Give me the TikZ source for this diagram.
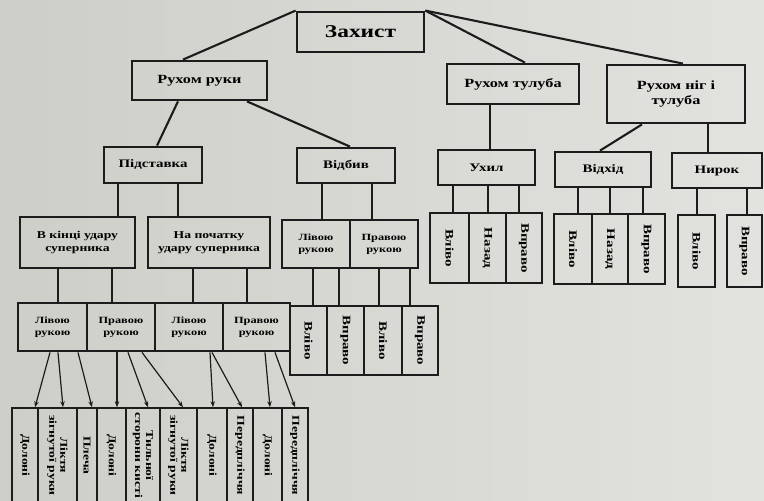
\documentclass[tikz,border=0pt]{standalone}
\usepackage{fontspec}
\setmainfont{Liberation Serif}[FakeStretch=1.3]
\usetikzlibrary{arrows.meta}
\definecolor{paperL}{RGB}{206,206,201}
\definecolor{paperR}{RGB}{226,226,222}
\definecolor{ink}{RGB}{28,28,28}
\tikzset{
  bx/.style={draw=ink, line width=2.8pt, align=center, inner sep=1pt},
  fA/.style={font=\bfseries\fontsize{18}{20}\selectfont},
  fB/.style={font=\bfseries\fontsize{12.5}{15}\selectfont},
  fC/.style={font=\bfseries\fontsize{11.5}{13}\selectfont},
  fD/.style={font=\bfseries\fontsize{10.5}{13}\selectfont},
  fE/.style={font=\bfseries\fontsize{9.5}{12}\selectfont},
  leaf/.style={draw=ink, line width=2.6pt, inner sep=0pt},
  lf/.style={rotate=-90, inner sep=0pt, align=center, font=\bfseries\fontsize{11.5}{12}\selectfont},
  bt/.style={draw=ink, line width=1.5pt, inner sep=0pt},
  bf/.style={rotate=-90, inner sep=0pt, align=center, font=\bfseries\fontsize{10.5}{11}\selectfont},
  cn/.style={draw=ink, line width=2.1pt},
  ar/.style={draw=ink, line width=1.2pt, -{Stealth[length=6pt,width=4.5pt]}},
}
\begin{document}
\begin{tikzpicture}[x=1pt,y=-1pt]
\useasboundingbox (0,0) rectangle (764,501);
\clip (0,0) rectangle (764,501);
\shade[left color=paperL, right color=paperR] (0,0) rectangle (764,501);

% level 0 and 1
\node[bx, fA, minimum width=127pt, minimum height=40pt] (zah) at (360.5,32) {Захист};
\node[bx, fB, minimum width=135pt, minimum height=39pt] (rr) at (199.5,80.5) {Рухом руки};
\node[bx, fB, minimum width=132pt, minimum height=40pt] (rt) at (513,84) {Рухом тулуба};
\node[bx, fB, minimum width=138pt, minimum height=58pt] (rn) at (676,94) {Рухом ніг і\\тулуба};

% level 2
\node[bx, fC, minimum width=98pt, minimum height=36pt] (pid) at (153,165) {Підставка};
\node[bx, fC, minimum width=98pt, minimum height=35pt] (vidb) at (346,165.5) {Відбив};
\node[bx, fC, minimum width=97pt, minimum height=35pt] (ukh) at (486.5,167.5) {Ухил};
\node[bx, fC, minimum width=96pt, minimum height=35pt] (vidh) at (603,169.5) {Відхід};
\node[bx, fC, minimum width=90pt, minimum height=35pt] (nyr) at (717,170.5) {Нирок};

% level 3
\node[bx, fD, minimum width=115pt, minimum height=51pt] (vk) at (77.5,242.5) {В кінці удару\\суперника};
\node[bx, fD, minimum width=122pt, minimum height=51pt] (np) at (209,242.5) {На початку\\удару суперника};
\node[bx, fE, minimum width=68pt, minimum height=48pt] (vl) at (316,244) {Лівою\\рукою};
\node[bx, fE, minimum width=68pt, minimum height=48pt] (vp) at (384,244) {Правою\\рукою};

% level 4
\node[bx, fE, minimum width=69pt, minimum height=48pt] (a1) at (52.5,327) {Лівою\\рукою};
\node[bx, fE, minimum width=68pt, minimum height=48pt] (a2) at (121,327) {Правою\\рукою};
\node[bx, fE, minimum width=68pt, minimum height=48pt] (a3) at (189,327) {Лівою\\рукою};
\node[bx, fE, minimum width=67pt, minimum height=48pt] (a4) at (256.5,327) {Правою\\рукою};

% leaves under Відбив
\node[leaf, minimum width=37pt, minimum height=69pt, label={[lf]center:Вліво}] (d1) at (308.5,340.5) {};
\node[leaf, minimum width=37pt, minimum height=69pt, label={[lf]center:Вправо}] (d2) at (345.5,340.5) {};
\node[leaf, minimum width=38pt, minimum height=69pt, label={[lf]center:Вліво}] (d3) at (383,340.5) {};
\node[leaf, minimum width=36pt, minimum height=69pt, label={[lf]center:Вправо}] (d4) at (420,340.5) {};

% leaves under Ухил
\node[leaf, minimum width=39pt, minimum height=70pt, label={[lf]center:Вліво}] (u1) at (449.5,248) {};
\node[leaf, minimum width=37pt, minimum height=70pt, label={[lf]center:Назад}] (u2) at (487.5,248) {};
\node[leaf, minimum width=36pt, minimum height=70pt, label={[lf]center:Вправо}] (u3) at (524,248) {};

% leaves under Відхід
\node[leaf, minimum width=38pt, minimum height=70pt, label={[lf]center:Вліво}] (h1) at (573,249) {};
\node[leaf, minimum width=36pt, minimum height=70pt, label={[lf]center:Назад}] (h2) at (610,249) {};
\node[leaf, minimum width=37pt, minimum height=70pt, label={[lf]center:Вправо}] (h3) at (646.5,249) {};

% leaves under Нирок
\node[leaf, minimum width=37pt, minimum height=72pt, label={[lf]center:Вліво}] (n1) at (696.5,251) {};
\node[leaf, minimum width=35pt, minimum height=72pt, label={[lf]center:Вправо}] (n2) at (744.5,251) {};

% bottom row
\node[bt, minimum width=26pt, minimum height=95pt, label={[bf]center:Долоні}] (b1) at (25,455.5) {};
\node[bt, minimum width=39pt, minimum height=95pt, label={[bf]center:Ліктя\\зігнутої руки}] (b2) at (57.5,455.5) {};
\node[bt, minimum width=20pt, minimum height=95pt, label={[bf]center:Плеча}] (b3) at (87,455.5) {};
\node[bt, minimum width=29pt, minimum height=95pt, label={[bf]center:Долоні}] (b4) at (111.5,455.5) {};
\node[bt, minimum width=34pt, minimum height=95pt, label={[bf]center:Тильної\\сторони кисті}] (b5) at (143,455.5) {};
\node[bt, minimum width=37pt, minimum height=95pt, label={[bf]center:Ліктя\\зігнутої руки}] (b6) at (178.5,455.5) {};
\node[bt, minimum width=30pt, minimum height=95pt, label={[bf]center:Долоні}] (b7) at (212,455.5) {};
\node[bt, minimum width=26pt, minimum height=95pt, label={[bf]center:Передпліччя}] (b8) at (240,455.5) {};
\node[bt, minimum width=29pt, minimum height=95pt, label={[bf]center:Долоні}] (b9) at (267.5,455.5) {};
\node[bt, minimum width=26pt, minimum height=95pt, label={[bf]center:Передпліччя}] (b10) at (295,455.5) {};

% connectors
\draw[cn] (zah.north west) -- (rr.north -| 183,0);
\draw[cn] (zah.north east) -- (rt.north -| 525,0);
\draw[cn] (zah.north east) -- (rn.north -| 683,0);
\draw[cn] (rr.south -| 178,0) -- (pid.north -| 157,0);
\draw[cn] (rr.south -| 247,0) -- (vidb.north -| 350,0);
\draw[cn] (rt.south -| 490,0) -- (ukh.north -| 490,0);
\draw[cn] (rn.south -| 642,0) -- (vidh.north -| 600,0);
\draw[cn] (rn.south -| 708,0) -- (nyr.north -| 708,0);

\draw[cn] (pid.south -| 118,0) -- (vk.north -| 118,0);
\draw[cn] (pid.south -| 178,0) -- (np.north -| 178,0);
\draw[cn] (vidb.south -| 322,0) -- (vl.north -| 322,0);
\draw[cn] (vidb.south -| 372,0) -- (vp.north -| 372,0);

\draw[cn] (vk.south -| 58,0) -- (a1.north -| 58,0);
\draw[cn] (vk.south -| 112,0) -- (a2.north -| 112,0);
\draw[cn] (np.south -| 193,0) -- (a3.north -| 193,0);
\draw[cn] (np.south -| 247,0) -- (a4.north -| 247,0);

\draw[cn] (vl.south -| 313,0) -- (d1.north -| 313,0);
\draw[cn] (vl.south -| 339,0) -- (d2.north -| 339,0);
\draw[cn] (vp.south -| 379,0) -- (d3.north -| 379,0);
\draw[cn] (vp.south -| 410,0) -- (d4.north -| 410,0);

\draw[cn] (ukh.south -| 453,0) -- (u1.north -| 453,0);
\draw[cn] (ukh.south -| 488,0) -- (u2.north -| 488,0);
\draw[cn] (ukh.south -| 519,0) -- (u3.north -| 519,0);
\draw[cn] (vidh.south -| 578,0) -- (h1.north -| 578,0);
\draw[cn] (vidh.south -| 610,0) -- (h2.north -| 610,0);
\draw[cn] (vidh.south -| 643,0) -- (h3.north -| 643,0);
\draw[cn] (nyr.south -| 697,0) -- (n1.north -| 697,0);
\draw[cn] (nyr.south -| 747,0) -- (n2.north -| 747,0);

% arrows to bottom row
\draw[ar] (a1.south -| 50,0) -- (b1.north -| 35,0);
\draw[ar] (a1.south -| 58,0) -- (b2.north -| 63,0);
\draw[ar] (a1.south -| 78,0) -- (b3.north -| 92,0);
\draw[ar] (a2.south -| 117,0) -- (b4.north -| 117,0);
\draw[ar] (a2.south -| 128,0) -- (b5.north -| 148,0);
\draw[ar] (a2.south -| 142,0) -- (b6.north -| 183,0);
\draw[ar] (a3.south -| 210,0) -- (b7.north -| 213,0);
\draw[ar] (a3.south -| 212,0) -- (b8.north -| 242,0);
\draw[ar] (a4.south -| 265,0) -- (b9.north -| 270,0);
\draw[ar] (a4.south -| 275,0) -- (b10.north -| 295,0);
\end{tikzpicture}
\end{document}
